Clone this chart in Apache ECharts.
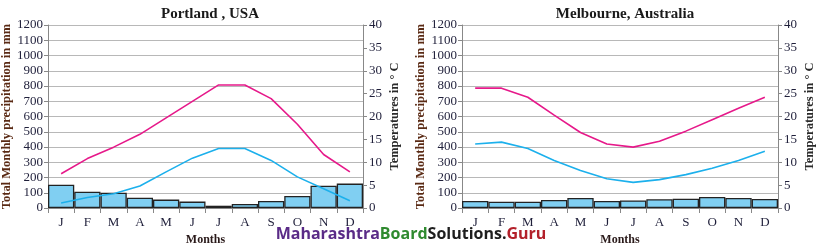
<!DOCTYPE html>
<html><head><meta charset="utf-8">
<script src="https://cdn.jsdelivr.net/npm/echarts@6/dist/echarts.min.js"></script>
<style>html,body{margin:0;padding:0;background:#fff}#c{width:816px;height:245px}</style>
</head><body><div id="c"></div>
<script>
const months = ['J','F','M','A','M','J','J','A','S','O','N','D'];
const precipTicks = [0,100,200,300,400,500,600,700,800,900,1000,1100,1200];
const tempTicks = [0,5,10,15,20,25,30,35,40];
const portlandPrecip = [153,107,100,68,55,42,15,26,46,79,146,160];
const portlandMax = [7.5,10.8,13.3,16.1,19.7,23.3,26.9,26.9,23.9,18.3,11.7,7.9];
const portlandMin = [1.1,2.3,3.1,4.8,7.9,10.9,13.0,13.0,10.4,6.8,4.2,1.6];
const melbournePrecip = [46,41,41,52,66,46,50,57,61,72,66,59];
const melbourneMax = [26.2,26.2,24.2,20.3,16.5,14.0,13.3,14.6,16.8,19.3,21.8,24.2];
const melbourneMin = [14.0,14.4,13.0,10.4,8.2,6.4,5.6,6.2,7.3,8.7,10.4,12.4];

const serif = 'Liberation Serif';
const labelColor = '#1f1f3a';
function xAx(gi){
  return {type:'category', gridIndex:gi, data:months, boundaryGap:true,
    axisLine:{lineStyle:{color:'#888',width:1}}, axisTick:{show:true,length:5,lineStyle:{color:'#888'}},
    axisLabel:{fontFamily:serif,fontSize:13,color:labelColor,margin:8},
    name:'Months', nameLocation:'middle', nameGap:24,
    nameTextStyle:{fontFamily:serif,fontSize:12,fontWeight:'bold',color:'#2a1a1a'}};
}
function yLeft(gi){
  return {type:'value', gridIndex:gi, position:'left', min:precipTicks[0], max:precipTicks[precipTicks.length-1], interval:100,
    axisLine:{show:true,lineStyle:{color:'#888'}}, axisTick:{show:true,length:4,lineStyle:{color:'#888'}},
    splitLine:{show:true,lineStyle:{color:'#b8b8b8',width:1}},
    axisLabel:{fontFamily:serif,fontSize:13,color:labelColor,margin:5,formatter:v=>String(v)},
    name:'Total Monthly precipitation in mm', nameLocation:'middle', nameGap:33, nameRotate:90,
    nameTextStyle:{fontFamily:serif,fontSize:12.5,fontWeight:'bold',color:'#5a2a14'}};
}
function yRight(gi){
  return {type:'value', gridIndex:gi, position:'right', min:tempTicks[0], max:tempTicks[tempTicks.length-1], interval:5,
    axisLine:{show:true,lineStyle:{color:'#888'}}, axisTick:{show:true,length:4,lineStyle:{color:'#888'}},
    splitLine:{show:false},
    axisLabel:{fontFamily:serif,fontSize:13,color:labelColor,margin:6,formatter:v=>String(v)},
    name:'Temperatures in ° C', nameLocation:'middle', nameGap:25, nameRotate:90,
    nameTextStyle:{fontFamily:serif,fontSize:12.5,fontWeight:'bold',color:'#2a2a2a'}};
}
function bar(xi,yi,data){
  return {type:'bar', xAxisIndex:xi, yAxisIndex:yi, data:data, barCategoryGap:'0%',
    itemStyle:{color:'#80cff2',borderColor:'#222',borderWidth:1.3}, silent:true, animation:false};
}
function line(xi,yi,data,color){
  return {type:'line', xAxisIndex:xi, yAxisIndex:yi, data:data, symbol:'none',
    lineStyle:{color:color,width:1.6}, silent:true, animation:false, z:5};
}
const wm = {fontFamily:'Open Sans',fontWeight:'bold',fontSize:16};
const chart = echarts.init(document.getElementById('c'));
chart.setOption({
  animation:false,
  title:[
    {text:'Portland , USA', left:205, top:2, textAlign:'center', textStyle:{fontFamily:serif,fontSize:15,fontWeight:'bold',color:'#1a1a1a'}},
    {text:'Melbourne, Australia', left:620, top:2, textAlign:'center', textStyle:{fontFamily:serif,fontSize:15,fontWeight:'bold',color:'#1a1a1a'}},
    {text:'{a|Maharashtra}{b|Board}{c|Solutions.}{d|Guru}', left:411, top:226, textAlign:'center', padding:0,
      textStyle:{rich:{
        a:Object.assign({color:'#5a2b87'},wm),
        b:Object.assign({color:'#2f8a2f'},wm),
        c:Object.assign({color:'#1e1e1e'},wm),
        d:Object.assign({color:'#b3202a'},wm)}}}
  ],
  grid:[
    {left:48, right:453, top:25, bottom:37, outerBoundsMode:'none', containLabel:false},
    {left:462, right:38, top:25, bottom:37, outerBoundsMode:'none', containLabel:false}
  ],
  xAxis:[xAx(0), xAx(1)],
  yAxis:[yLeft(0), yRight(0), yLeft(1), yRight(1)],
  series:[
    bar(0,0,portlandPrecip),
    line(0,1,portlandMax,'#e6198a'),
    line(0,1,portlandMin,'#1cb0ec'),
    bar(1,2,melbournePrecip),
    line(1,3,melbourneMax,'#e6198a'),
    line(1,3,melbourneMin,'#1cb0ec')
  ]
});
</script></body></html>
